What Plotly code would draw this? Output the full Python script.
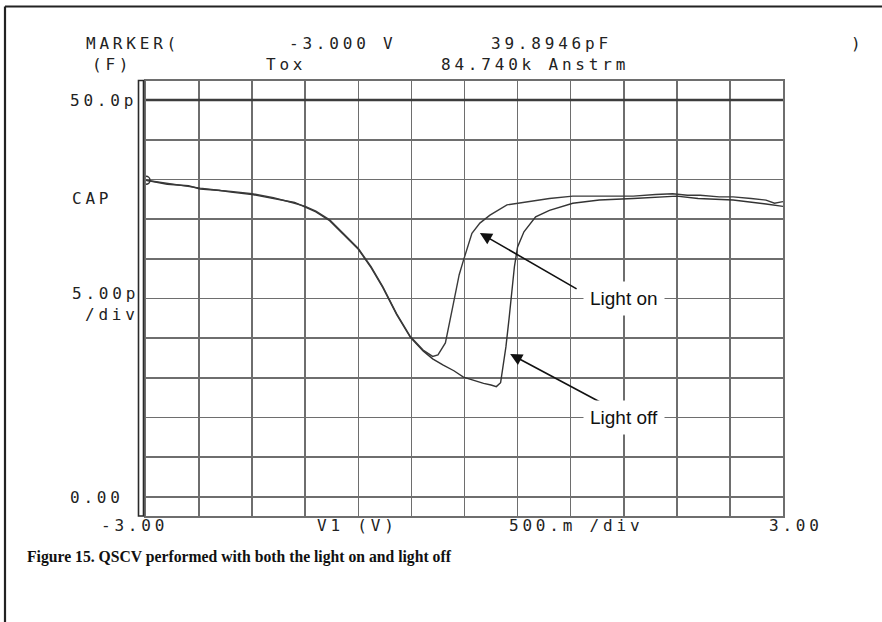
import plotly.graph_objects as go

# ---------------- data ----------------
v_light_on = [-3.00, -2.80, -2.60, -2.49, -2.30, -2.20, -2.00, -1.80, -1.60, -1.50,
              -1.40, -1.27, -1.15, -1.00, -0.88, -0.77, -0.64, -0.51, -0.39, -0.30,
              -0.25, -0.18, -0.11, -0.05, -0.01, 0.07, 0.145, 0.24, 0.40, 0.58,
              0.80, 1.02, 1.30, 1.59, 1.80, 1.96, 2.10, 2.22, 2.40, 2.53,
              2.70, 2.84, 2.92, 3.00]
c_light_on = [39.9, 39.5, 39.1, 38.9, 38.6, 38.5, 38.2, 37.7, 37.0, 36.6,
              36.0, 34.9, 33.3, 31.3, 29.0, 26.5, 23.1, 20.2, 18.5, 17.7,
              17.9, 19.4, 24.0, 28.0, 29.8, 33.2, 34.5, 35.5, 36.8, 37.2,
              37.6, 37.9, 37.9, 37.9, 38.1, 38.2, 38.0, 38.0, 37.8, 37.8,
              37.6, 37.4, 37.0, 37.2]

v_light_off = [-3.00, -2.80, -2.60, -2.49, -2.30, -2.20, -2.00, -1.80, -1.60, -1.50,
               -1.40, -1.27, -1.15, -1.00, -0.88, -0.77, -0.64, -0.51, -0.39, -0.30,
               -0.20, -0.10, -0.01, 0.10, 0.18, 0.25, 0.30, 0.34, 0.36, 0.39,
               0.42, 0.44, 0.47, 0.50, 0.56, 0.67, 0.80, 1.02, 1.27, 1.59,
               1.80, 2.00, 2.20, 2.53, 2.84, 3.00]
c_light_off = [39.9, 39.4, 39.2, 38.8, 38.6, 38.4, 38.1, 37.6, 37.1, 36.5,
               35.9, 34.8, 33.2, 31.2, 28.9, 26.4, 23.0, 20.1, 18.4, 17.4,
               16.6, 15.9, 15.1, 14.6, 14.3, 14.1, 13.9, 14.4, 16.0, 18.9,
               22.5, 24.8, 29.0, 31.5, 33.4, 35.3, 36.1, 37.0, 37.4, 37.6,
               37.8, 37.9, 37.6, 37.4, 36.9, 36.6]

marker_v = [-3.000]
marker_c = [39.8946]

x_range = [-3.0, 3.0]
y_range = [-2.4, 52.4]

# annotation anchors (data units): label centre, arrow tail, arrow tip
label_text = ["Light on", "Light off"]
label_v = [1.5, 1.5]
label_c = [25.0, 10.0]
arrow_tail_v = [1.07, 1.37]
arrow_tail_c = [26.1, 11.3]
arrow_tip_v = [0.145, 0.43]
arrow_tip_c = [33.25, 18.0]

# instrument screen texts
header_texts = ["MARKER(", "-3.000 V", "39.8946pF", ")", "(F)", "Tox", "84.740k Anstrm"]
y_texts = ["50.0p", "CAP", "5.00p", "/div", "0.00"]
x_texts = ["-3.00", "V1 (V)", "500.m /div", "3.00"]
caption = "Figure 15. QSCV performed with both the light on and light off"

# ---------------- layout geometry ----------------
W, H = 882, 622
L, R, T, B = 146, 783, 81, 516


def px(xp):
    return (xp - L) / (R - L)


def py(yp):
    return (B - yp) / (B - T)


MONO = "DejaVu Sans Mono"
SCREEN = "#222222"
MONO_SIZE = 16


def screen(t):
    return '<span style="letter-spacing:3.8px">' + t + '</span>'


fig = go.Figure()

fig.add_trace(go.Scatter(x=v_light_off, y=c_light_off, mode="lines",
                         line=dict(color="#333333", width=1.4), showlegend=False))
fig.add_trace(go.Scatter(x=v_light_on, y=c_light_on, mode="lines",
                         line=dict(color="#3a3a3a", width=1.4), showlegend=False))
fig.add_trace(go.Scatter(x=marker_v, y=marker_c, mode="markers",
                         marker=dict(symbol="circle-open", size=8, color="#333333",
                                     line=dict(color="#333333", width=1.5)),
                         showlegend=False, cliponaxis=False))

annotations = []

# header rows
hdr_pos = [(84, 44), (287, 44), (489, 44), (849, 44), (90, 64), (264, 64), (439, 64)]
for t, (xp_, yp_) in zip(header_texts, hdr_pos):
    annotations.append(dict(text=screen(t), xref="paper", yref="paper",
                            x=px(xp_), y=py(yp_), xanchor="left", yanchor="middle",
                            showarrow=False,
                            font=dict(family=MONO, size=MONO_SIZE, color=SCREEN)))

# y-side texts
ypos = [(139, 100, "right"), (70, 198, "left"), (70, 293, "left"),
        (83, 314, "left"), (126, 497, "right")]
for t, (xp_, yp_, anc) in zip(y_texts, ypos):
    annotations.append(dict(text=screen(t), xref="paper", yref="paper",
                            x=px(xp_), y=py(yp_), xanchor=anc, yanchor="middle",
                            showarrow=False,
                            font=dict(family=MONO, size=MONO_SIZE, color=SCREEN)))

# x-side texts
xpos = [(170, "right"), (315, "left"), (507, "left"), (767, "left")]
for t, (xp_, anc) in zip(x_texts, xpos):
    annotations.append(dict(text=screen(t), xref="paper", yref="paper",
                            x=px(xp_), y=py(525), xanchor=anc, yanchor="middle",
                            showarrow=False,
                            font=dict(family=MONO, size=MONO_SIZE, color=SCREEN)))

# arrows
for tv, tc, hv, hc in zip(arrow_tail_v, arrow_tail_c, arrow_tip_v, arrow_tip_c):
    annotations.append(dict(text="", x=hv, y=hc, ax=tv, ay=tc, xref="x", yref="y",
                            axref="x", ayref="y", showarrow=True, arrowhead=2,
                            arrowsize=1.5, arrowwidth=1.6, arrowcolor="#111111"))

# call-out labels
for t, lv, lc in zip(label_text, label_v, label_c):
    annotations.append(dict(text=t, x=lv, y=lc, xref="x", yref="y", showarrow=False,
                            bgcolor="white", borderpad=6,
                            font=dict(family="Liberation Sans Narrow, Liberation Sans, Arial",
                                      size=19, color="#111111")))

# caption
annotations.append(dict(text="<b>" + caption + "</b>", xref="paper", yref="paper",
                        x=px(25), y=py(557), xanchor="left", yanchor="middle",
                        showarrow=False,
                        font=dict(family="Liberation Serif, Times New Roman, serif",
                                  size=15.7, color="#111111")))

shapes = [
    # heavy 50 pF line
    dict(type="line", xref="paper", yref="y", x0=0, x1=1, y0=50, y1=50,
         line=dict(color="#3c3c3c", width=2.6), layer="above"),
    # double line at the left of the grid
    dict(type="rect", xref="paper", yref="paper", x0=px(138.5), x1=px(143.5),
         y0=py(516), y1=py(80.5), line=dict(color="#2a2a2a", width=1.6),
         fillcolor="white", layer="above"),
    # outer frame (top and left edges)
    dict(type="line", xref="paper", yref="paper", x0=px(5), x1=px(884),
         y0=py(6.5), y1=py(6.5), line=dict(color="#222222", width=2.2),
         layer="above"),
    dict(type="line", xref="paper", yref="paper", x0=px(5), x1=px(5),
         y0=py(6.5), y1=py(624), line=dict(color="#222222", width=2.2),
         layer="above"),
]

fig.update_layout(
    width=W, height=H,
    margin=dict(l=L, r=W - R, t=T, b=H - B, pad=0),
    paper_bgcolor="white", plot_bgcolor="white",
    showlegend=False,
    annotations=annotations,
    shapes=shapes,
)
fig.update_xaxes(range=x_range, tick0=-3, dtick=0.5, showgrid=True,
                 gridcolor="#6e6e6e", gridwidth=1.6, zeroline=False,
                 showticklabels=False, ticks="", showline=True, mirror=True,
                 linecolor="#6e6e6e", linewidth=2, fixedrange=True)
fig.update_yaxes(range=y_range, tick0=0, dtick=5, showgrid=True,
                 gridcolor="#6e6e6e", gridwidth=1.6, zeroline=False,
                 showticklabels=False, ticks="", showline=True, mirror=True,
                 linecolor="#6e6e6e", linewidth=2, fixedrange=True)

fig.write_html("out.html",
               config={"displayModeBar": False, "staticPlot": True},
               post_script="document.body.style.margin='0';"
                           "document.body.style.overflow='hidden';")
